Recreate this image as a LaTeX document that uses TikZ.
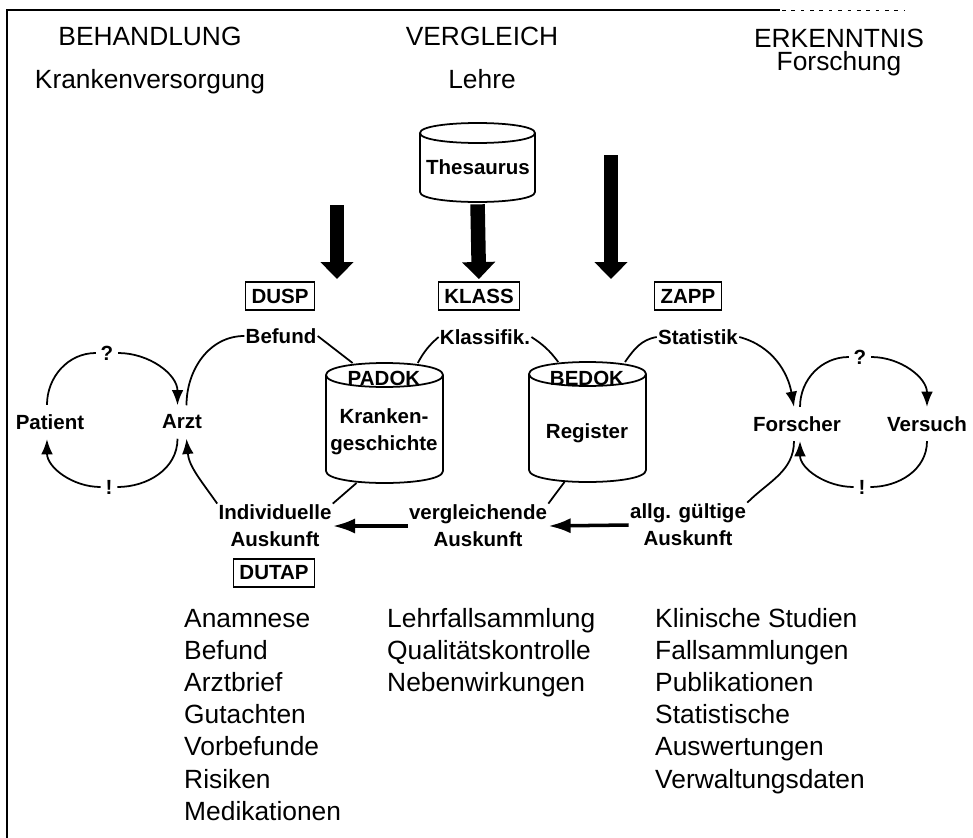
\documentclass[tikz,border=0pt]{standalone}
\usepackage{fontspec}
\setmainfont{Liberation Sans}
\usetikzlibrary{arrows.meta, calc}

% Datenbank als Trommel um einen Knoten
\newcommand{\trommel}[2]{%
	\draw[linie] ($(#1.north west)+(0,-#2)$) -- ($(#1.south west)+(0,#2)$)
		.. controls +(0,-1.333*#2) and +(0,-1.333*#2) .. ($(#1.south east)+(0,#2)$)
		-- ($(#1.north east)+(0,-#2)$)
		.. controls +(0,1.333*#2) and +(0,1.333*#2) .. ($(#1.north west)+(0,-#2)$)
		.. controls +(0,-1.333*#2) and +(0,-1.333*#2) .. ($(#1.north east)+(0,-#2)$);
}

\begin{document}
\begin{tikzpicture}[x=0.03cm, y=0.03cm, >={Latex[length=13pt,width=10pt]}]
		\tikzstyle{kopf} = [font=\fontsize{22.5}{26}\selectfont, inner sep=0pt, anchor=base]
		\tikzstyle{liste} = [font=\fontsize{22.5}{26}\selectfont, inner sep=0pt, anchor=base west]
		\tikzstyle{fett} = [font=\bfseries\fontsize{17.5}{23}\selectfont, align=center, inner sep=1pt]
		\tikzstyle{knoten} = [fett, inner ysep=8pt]
		\tikzstyle{zeichen} = [fett, inner sep=4pt]
		\tikzstyle{kasten} = [fett, draw, line width=1.1pt, inner xsep=5pt, minimum height=0.84cm]
		\tikzstyle{db} = [inner sep=0pt, outer sep=0pt]
		\tikzstyle{linie} = [line width=1.5pt]
		\tikzstyle{dick} = [line width=3pt, -{Latex[length=19pt,width=13pt]}]
		\tikzstyle{block} = [line width=12.4pt, -{Triangle[length=14.5pt,width=27.5pt]}]
		
		\useasboundingbox (0,0) rectangle (973,-838);
		\draw[line width=1pt] (7,-838) -- (7,-10) -- (780,-10);
		\draw[line width=0.8pt, dash pattern=on 3pt off 5pt] (782,-10) -- (905,-10);
		
		% Spaltenkoepfe
		\node[kopf] 	at (150,-45) 	(behandlung) 	{BEHANDLUNG};
		\node[kopf] 	at (150,-88) 	(versorgung) 	{Krankenversorgung};
		\node[kopf] 	at (482,-45) 	(vergleich) 	{VERGLEICH};
		\node[kopf] 	at (482,-88) 	(lehre) 		{Lehre};
		\node[kopf, anchor=north, align=center, font=\fontsize{22.5}{19.6}\selectfont] 	at (839,-28.5) 	(erkenntnis) 	{ERKENNTNIS\\Forschung};
		
		% Datenbanken
		\node[db, minimum width=3.45cm, minimum height=2.37cm] 	at (477.5,-162.5) 	(thesaurus) 	{};
		\node[db, minimum width=3.51cm, minimum height=3.6cm] 	at (384.5,-423) 	(padokdb) 	{};
		\node[db, minimum width=3.51cm, minimum height=3.6cm] 	at (587.5,-422) 	(bedokdb) 	{};
		\trommel{thesaurus}{10}
		\trommel{padokdb}{12}
		\trommel{bedokdb}{12}
		\node[fett] 	at (478,-167) 	(thesaurust) 	{Thesaurus};
		\node[fett] 	at (384,-378) 	(padok) 		{PADOK};
		\node[fett] 	at (384,-432) 	(kg) 			{Kranken-\\geschichte};
		\node[fett] 	at (587,-378) 	(bedok) 		{BEDOK};
		\node[fett] 	at (587,-433) 	(register) 		{Register};
		
		% Kaesten
		\node[kasten] 	at (280,-296) 	(dusp) 		{DUSP};
		\node[kasten] 	at (479,-296) 	(klass) 	{KLASS};
		\node[kasten] 	at (688,-296) 	(zapp) 		{ZAPP};
		\node[kasten] 	at (274,-573) 	(dutap) 	{DUTAP};
		
		% Pfeile von oben
		\coordinate (p1) at (337,-205);
		\coordinate (p1e) at (337,-279);
		\coordinate (p3) at (611,-155);
		\coordinate (p3e) at (611,-279);
		\draw[block] (p1) -- (p1e);
		\draw[block, shorten <=2pt, shorten >=2pt] (thesaurus.south) -- (klass.north);
		\draw[block] (p3) -- (p3e);
		
		% Beschriftungen
		\node[fett] 	at (281,-336) 	(befund) 		{Befund};
		\node[fett] 	at (485,-337) 	(klassifik) 	{Klassifik.};
		\node[fett] 	at (698,-337) 	(statistik) 	{Statistik};
		\node[knoten] 	at (50,-422) 	(patient) 		{Patient};
		\node[knoten] 	at (182,-422) 	(arzt) 			{Arzt};
		\node[knoten] 	at (797,-424) 	(forscher) 		{Forscher};
		\node[knoten] 	at (927,-424) 	(versuch) 		{Versuch};
		\node[zeichen] 	at (107,-353) 	(frage1) 		{?};
		\node[zeichen] 	at (109,-487) 	(ausruf1) 		{!};
		\node[zeichen] 	at (860,-357) 	(frage2) 		{?};
		\node[zeichen] 	at (862,-487) 	(ausruf2) 		{!};
		\node[fett] 	at (275,-526) 	(individuell) 	{Individuelle\\Auskunft};
		\node[fett] 	at (478,-526) 	(vergleichend) 	{vergleichende\\Auskunft};
		\node[fett] 	at (688,-525) 	(allgemein) 	{allg. gültige\\Auskunft};
		
		% Kreise
		\draw[linie] (patient.100) to[out=90, in=180] (frage1.west);
		\draw[linie, ->] (frage1.east) to[out=0, in=90] (arzt.105);
		\draw[linie] (arzt.255) to[out=-90, in=0] (ausruf1.east);
		\draw[linie, ->] (ausruf1.west) to[out=180, in=-90] (patient.260);
		\draw[linie] (forscher.80) to[out=90, in=180] (frage2.west);
		\draw[linie, ->] (frage2.east) to[out=0, in=90] (versuch.north);
		\draw[linie] (versuch.south) to[out=-90, in=0] (ausruf2.east);
		\draw[linie, ->] (ausruf2.west) to[out=180, in=-90] (forscher.280);
		
		% Verbindungen
		\draw[linie] (arzt.75) to[out=90, in=180] (befund.west);
		\draw[linie] (befund.east) -- (padokdb.118);
		\draw[linie] (klassifik.west) to[bend right=10] (padokdb.61);
		\draw[linie] (klassifik.east) to[bend left=10] (bedokdb.116);
		\draw[linie] (statistik.west) to[out=190, in=55] (bedokdb.58);
		\draw[linie, ->] (statistik.east) to[out=-15, in=100] (forscher.100);
		\draw[linie] (forscher.260) to[out=-90, in=45] (allgemein.north east);
		\draw[linie] (bedokdb.249) -- (vergleichend.north east);
		\draw[linie] (padokdb.245) -- (individuell.north east);
		\draw[linie, ->] (individuell.north west) to[out=125, in=-85] (arzt.285);
		\draw[dick] (allgemein.west) -- (vergleichend.east);
		\draw[dick] (vergleichend.west) -- (individuell.east);
		
		% Listen
		\foreach \t [count=\i] in {Anamnese, Befund, Arztbrief, Gutachten, Vorbefunde, Risiken, Medikationen}
			\node[liste] at (184,-594.8-32.2*\i) (la\i) {\t};
		\foreach \t [count=\i] in {Lehrfallsammlung, Qualitätskontrolle, Nebenwirkungen}
			\node[liste] at (387,-594.8-32.2*\i) (lb\i) {\t};
		\foreach \t [count=\i] in {Klinische Studien, Fallsammlungen, Publikationen, Statistische, Auswertungen, Verwaltungsdaten}
			\node[liste] at (655,-594.8-32.2*\i) (lc\i) {\t};
\end{tikzpicture}
\end{document}
